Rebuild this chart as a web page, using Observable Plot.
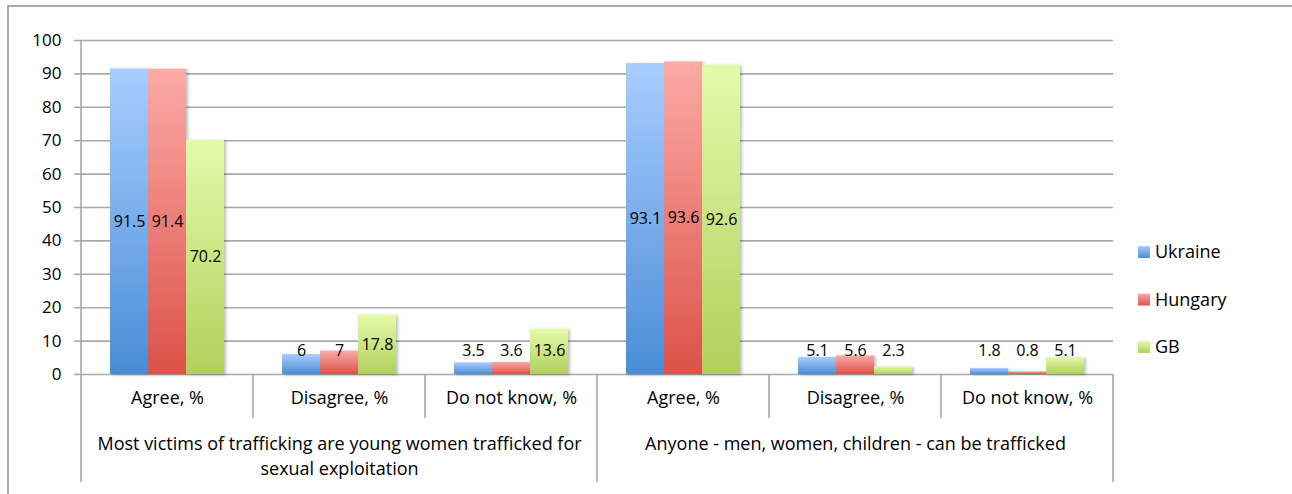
<!DOCTYPE html>
<html>
<head>
<meta charset="utf-8">
<script src="https://cdn.jsdelivr.net/npm/d3@7"></script>
<script src="https://cdn.jsdelivr.net/npm/@observablehq/plot@0.6"></script>
<style>
  html, body { margin: 0; padding: 0; background: #fff; }
  #chart { width: 1292px; height: 494px; overflow: hidden; }
</style>
</head>
<body>
<div id="chart"></div>
<script>
// Statements, answers and the three surveyed countries
const groups = [
  "Most victims of trafficking are young women trafficked for\nsexual exploitation",
  "Anyone - men, women, children - can be trafficked"
];
const answers = ["Agree, %", "Disagree, %", "Do not know, %"];
const series = ["Ukraine", "Hungary", "GB"];

// Shares per category (statement x answer), in order
const ukraine = [91.5, 6, 3.5, 93.1, 5.1, 1.8];
const hungary = [91.4, 7, 3.6, 93.6, 5.6, 0.8];
const gb      = [70.2, 17.8, 13.6, 92.6, 2.3, 5.1];

const yTicks = [0, 10, 20, 30, 40, 50, 60, 70, 80, 90, 100];

const FONT = "'Open Sans', sans-serif";

// Gradient stops (top, bottom) for each country's bars
const gradients = {
  Ukraine: ["#a9cdff", "#4a8dd6"],
  Hungary: ["#fcaaa6", "#db5248"],
  GB: ["#e4faab", "#b0d05c"]
};

const values = { Ukraine: ukraine, Hungary: hungary, GB: gb };
const cats = d3.range(groups.length * answers.length);
const rows = cats.flatMap(c => series.map(s => ({ cat: c, series: s, value: values[s][c] })));
const catRows = cats.map(c => ({ cat: c, answer: answers[c % answers.length] }));
const groupRows = groups.map((g, i) => ({ cat: i * answers.length + 1, label: g }));

const chart = Plot.plot({
  width: 1292,
  height: 494,
  marginLeft: 79,
  marginRight: 178,
  marginTop: 40,
  marginBottom: 120,
  style: { fontFamily: FONT, fontSize: "18px", color: "#000", background: "#fff", overflow: "visible" },
  fx: { domain: cats, padding: 0, axis: null },
  x: { domain: series, paddingInner: 0, paddingOuter: 0.726, axis: null },
  y: { domain: [0, 100], axis: null },
  color: { domain: series, range: series.map(s => `url(#grad-${s})`) },
  marks: [
    Plot.ruleY(yTicks, { stroke: "#a8a8a8", strokeWidth: 1.6 }),
    Plot.axisY({ ticks: yTicks, tickSize: 7, tickPadding: 13, label: null, stroke: "#a8a8a8", strokeWidth: 1.6, fontSize: 17 }),
    Plot.barY(rows, { fx: "cat", x: "series", y: "value", fill: "series" }),
    Plot.text(rows, {
      fx: "cat", x: "series",
      y: d => Math.max(d.value / 2, 7.2),
      text: d => String(d.value),
      fill: "#000", fontSize: 16
    }),
    Plot.text(catRows, { fx: "cat", text: "answer", frameAnchor: "bottom", dy: 29, fontSize: 18, fill: "#000" }),
    Plot.text(groupRows, { fx: "cat", text: "label", frameAnchor: "bottom", dy: 58, lineAnchor: "top", lineHeight: 1.39, fontSize: 18, fill: "#000" })
  ]
});

const svg = d3.select(chart);

// Vertical gradients and a soft shadow for the bars
const defs = svg.insert("defs", ":first-child");
for (const s of series) {
  const g = defs.append("linearGradient").attr("id", `grad-${s}`).attr("x1", 0).attr("y1", 0).attr("x2", 0).attr("y2", 1);
  g.append("stop").attr("offset", "0%").attr("stop-color", gradients[s][0]);
  g.append("stop").attr("offset", "100%").attr("stop-color", gradients[s][1]);
}
const f = defs.append("filter").attr("id", "barShadow").attr("x", "-10%").attr("y", "-10%").attr("width", "130%").attr("height", "130%");
f.append("feDropShadow").attr("dx", 2).attr("dy", 1).attr("stdDeviation", 1.5).attr("flood-color", "#000").attr("flood-opacity", 0.25);
svg.selectAll("g[aria-label='bar'] rect").attr("filter", "url(#barShadow)");

// Category separators under the x axis, from the facet scale
const fx = chart.scale("fx");
const y = chart.scale("y");
const y0 = y.apply(0);
const bw = fx.bandwidth;
const lines = svg.append("g").attr("stroke", "#a8a8a8").attr("stroke-width", 1.6);
const left = fx.apply(cats[0]);
// y axis line
lines.append("line").attr("x1", left).attr("x2", left).attr("y1", y.apply(100)).attr("y2", y0 + 108);
for (const c of cats) {
  const xr = fx.apply(c) + bw;
  const isGroupEdge = (c + 1) % answers.length === 0;
  lines.append("line").attr("x1", xr).attr("x2", xr).attr("y1", y0).attr("y2", y0 + (isGroupEdge ? 108 : 44));
}

// Outer border of the chart area
const border = svg.append("g").attr("stroke", "#8c8c8c").attr("stroke-width", 1.5).attr("fill", "none");
border.append("path").attr("d", "M8,494V6H1292");

// Legend
const color = chart.scale("color");
const legend = svg.append("g").attr("font-family", FONT).attr("font-size", 18).attr("text-anchor", "start");
color.domain.forEach((s, i) => {
  const cy = 252 + i * 47.5;
  legend.append("rect").attr("x", 1138).attr("y", cy - 6).attr("width", 12).attr("height", 12).attr("fill", `url(#grad-${s})`);
  legend.append("text").attr("x", 1155).attr("y", cy).attr("dy", "0.35em").attr("fill", "#000").text(s);
});

document.getElementById("chart").appendChild(chart);
</script>
</body>
</html>
